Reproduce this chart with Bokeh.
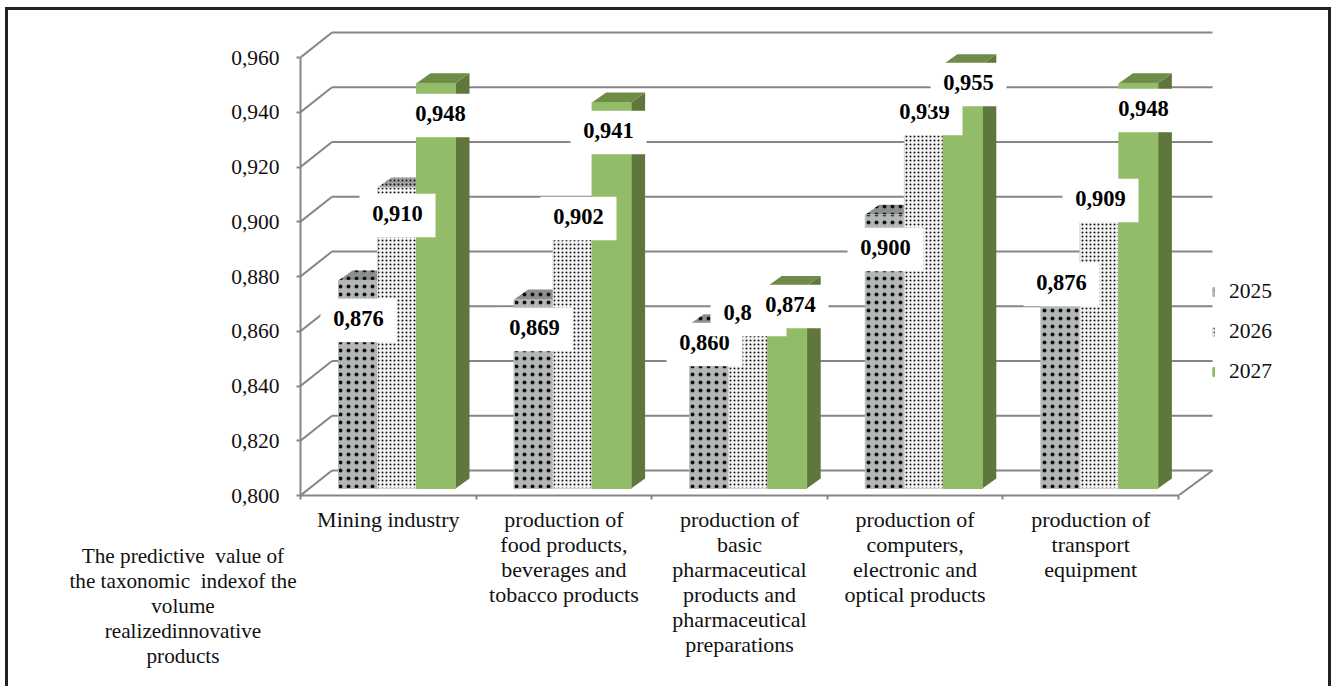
from bokeh.plotting import figure
from bokeh.layouts import column
from bokeh.embed import file_html
from bokeh.resources import INLINE
from bokeh.core.properties import value
from bokeh.models import (FixedTicker, LinearAxis, Range1d, Legend, LegendItem, Div)

categories = ["Mining industry", "production of\nfood products,\nbeverages and\ntobacco products",
              "production of\nbasic\npharmaceutical\nproducts and\npharmaceutical\npreparations",
              "production of\ncomputers,\nelectronic and\noptical products",
              "production of\ntransport\nequipment"]
years = ["2025", "2026", "2027"]
values_2025 = [0.876, 0.869, 0.860, 0.900, 0.876]
values_2026 = [0.910, 0.902, 0.866, 0.939, 0.909]
values_2027 = [0.948, 0.941, 0.874, 0.955, 0.948]
label_2026_override = {2: "0,8"}
y_ticks = [0.80, 0.82, 0.84, 0.86, 0.88, 0.90, 0.92, 0.94, 0.96]
y_tick_labels = ["0,800", "0,820", "0,840", "0,860", "0,880", "0,900", "0,920", "0,940", "0,960"]
side_title = ["The predictive  value of", "the taxonomic  indexof the", "volume", "realizedinnovative", "products"]

# page-pixel layout helpers
OX, OY = 8, 10          # page position of the figure's content
FL, FT, FB, FR = 300, OY, 495, 1334
PX_X = 175.6
PX_Y = 2737.5
def dx(px): return px / PX_X
def dy(px): return px / PX_Y
def X(px): return (px - FL) / PX_X
def Y(px): return 0.8 + (FB - px) / PX_Y

# label box centres (page pixels): text x, text y
centers_2025 = [(358, 318), (534, 327), (704, 342), (885, 247), (1061, 282)]
centers_2026 = [(397, 213), (578, 216), (748, 312), (924, 111), (1100, 198)]
centers_2027 = [(440, 113), (608, 130), (790, 304), (968, 82), (1143, 108)]

W, H = 1326, 679
p = figure(width=W, height=H, output_backend="svg", toolbar_location=None,
           x_range=Range1d(X(FL), X(FR)), y_range=Range1d(Y(FB), Y(FT)),
           min_border_left=FL - OX, min_border_right=0, min_border_top=0,
           min_border_bottom=H - (FB - OY), x_axis_location=None, y_axis_location=None,
           background_fill_color="white", border_fill_color="white", outline_line_color=None,
           margin=(7, 0, 0, 5),
           styles={"border-left": "3px solid #222222", "border-top": "3px solid #222222",
                   "border-right": "3px solid #222222"})
p.grid.visible = False

GRID = "#868686"
SERIF = "Liberation Serif"

yax = LinearAxis(ticker=FixedTicker(ticks=y_ticks), bounds=(0.8, 0.96),
                 major_label_overrides=dict(zip(y_ticks, y_tick_labels)),
                 axis_line_color=GRID, axis_line_width=2, major_tick_line_color=GRID,
                 major_tick_line_width=2, major_tick_out=4, major_tick_in=0,
                 minor_tick_line_color=None, major_label_standoff=17,
                 major_label_text_font=SERIF, major_label_text_font_size="21.5px",
                 major_label_text_color="#111111")
p.add_layout(yax, "left")
n = len(categories)
centres = [i + 0.5 for i in range(n)]
xax = LinearAxis(ticker=FixedTicker(ticks=centres, minor_ticks=list(range(n + 1))), bounds=(0, n),
                 major_label_overrides=dict(zip(centres, categories)),
                 axis_line_color=GRID, axis_line_width=2, major_tick_line_color=None,
                 major_tick_out=0, major_tick_in=0, minor_tick_line_color=GRID,
                 minor_tick_line_width=2, minor_tick_out=4, minor_tick_in=0,
                 major_label_standoff=7, major_label_text_font=SERIF,
                 major_label_text_font_size="22px", major_label_text_color="#111111",
                 major_label_text_line_height=1.0)
p.add_layout(xax, "below")

# 3-D walls
BDX, BDY = dx(31.5), dy(25)
p.segment(x0=[0] * len(y_ticks), y0=y_ticks, x1=[BDX] * len(y_ticks), y1=[t + BDY for t in y_ticks],
          line_color=GRID, line_width=2)
p.segment(x0=[BDX] * len(y_ticks), y0=[t + BDY for t in y_ticks], x1=[n + dx(34)] * len(y_ticks),
          y1=[t + BDY for t in y_ticks], line_color=GRID, line_width=2)
p.segment(x0=[n], y0=[0.8], x1=[n + dx(34)], y1=[0.8 + BDY], line_color=GRID, line_width=2)

# bars
BASE = dy(7)
BW = dx(39)
B0 = dx(38)
DX, DY = dx(14), dy(10)
styles = [
    dict(front="#b3b7b7", top="#8d8f8f", side="#8d8f8f", edge="#b3b7b7", tex="dot", scale=8, weight=0.8),
    dict(front="#f4f4f4", top="#a0a0a0", side="#9a9a9a", edge="#d4d4d4", tex="dot", scale=4, weight=1.0),
    dict(front="#92bc68", top="#6e8b48", side="#5f763c", edge="#92bc68", tex=None, scale=1, weight=1),
]
series = [values_2025, values_2026, values_2027]
front_renderers = []
for s, (vals, st) in enumerate(zip(series, styles)):
    lefts = [i + B0 + s * BW for i in range(n)]
    rights = [l + BW for l in lefts]
    tops = [v + BASE for v in vals]
    base = [0.8 + BASE] * n
    hatch = dict(hatch_pattern=st["tex"], hatch_scale=st["scale"], hatch_weight=st["weight"],
                 hatch_color="#111111") if st["tex"] else {}
    p.patches(xs=[[r, r + DX, r + DX, r] for r in rights],
              ys=[[b, b + DY, t + DY, t] for b, t in zip(base, tops)],
              fill_color=st["side"], line_color=None)
    p.patches(xs=[[l, l + DX, r + DX, r] for l, r in zip(lefts, rights)],
              ys=[[t, t + DY, t + DY, t] for t in tops],
              fill_color=st["top"], line_color=None, **hatch)
    fr = p.quad(left=lefts, right=rights, bottom=base, top=tops, fill_color=st["front"],
                line_color=st["edge"], line_width=1, **hatch)
    front_renderers.append(fr)

# value labels with their white boxes
all_centers = [centers_2025, centers_2026, centers_2027]
BOXW, BOXH = 76, 43.5
for s, (vals, cs) in enumerate(zip(series, all_centers)):
    p.quad(left=[X(c[0] - BOXW / 2) for c in cs], right=[X(c[0] + BOXW / 2) for c in cs],
           top=[Y(c[1] + 2 - BOXH / 2) for c in cs], bottom=[Y(c[1] + 2 + BOXH / 2) for c in cs],
           fill_color="white", line_color=None)
    txt = []
    for i, v in enumerate(vals):
        t = f"{v:.3f}".replace(".", ",")
        if s == 1 and i in label_2026_override:
            t = label_2026_override[i]
        txt.append(t)
    xs = [X(c[0]) for c in cs]
    aligns = ["center"] * n
    if s == 1:
        xs[2] = X(cs[2][0] - 25)
        aligns[2] = "left"
    p.text(x=xs, y=[Y(c[1]) for c in cs], text=txt, text_font=value(SERIF), text_font_style="bold",
           text_font_size="22.5px", text_align=aligns, text_baseline="middle", text_color="#000000")

# legend
legend = Legend(items=[LegendItem(label=y, renderers=[r]) for y, r in zip(years, front_renderers)],
                location=(1212 - FL, FB - 384), orientation="vertical", glyph_width=3, glyph_height=11,
                label_standoff=14, spacing=15, padding=0, margin=0, border_line_color=None,
                background_fill_alpha=0, label_text_font=SERIF, label_text_font_size="21.5px",
                label_text_color="#111111", label_height=20)
p.add_layout(legend)

note = Div(text="<br>".join(side_title), width=260, height=125, margin=0,
           styles={"position": "absolute", "left": "53px", "top": "544px", "text-align": "center",
                   "font-family": "'Liberation Serif'", "font-size": "21.2px", "line-height": "25px",
                   "color": "#111111", "white-space": "pre"})

open("out.html", "w").write(file_html(column(p, note, spacing=0, margin=0), INLINE))
